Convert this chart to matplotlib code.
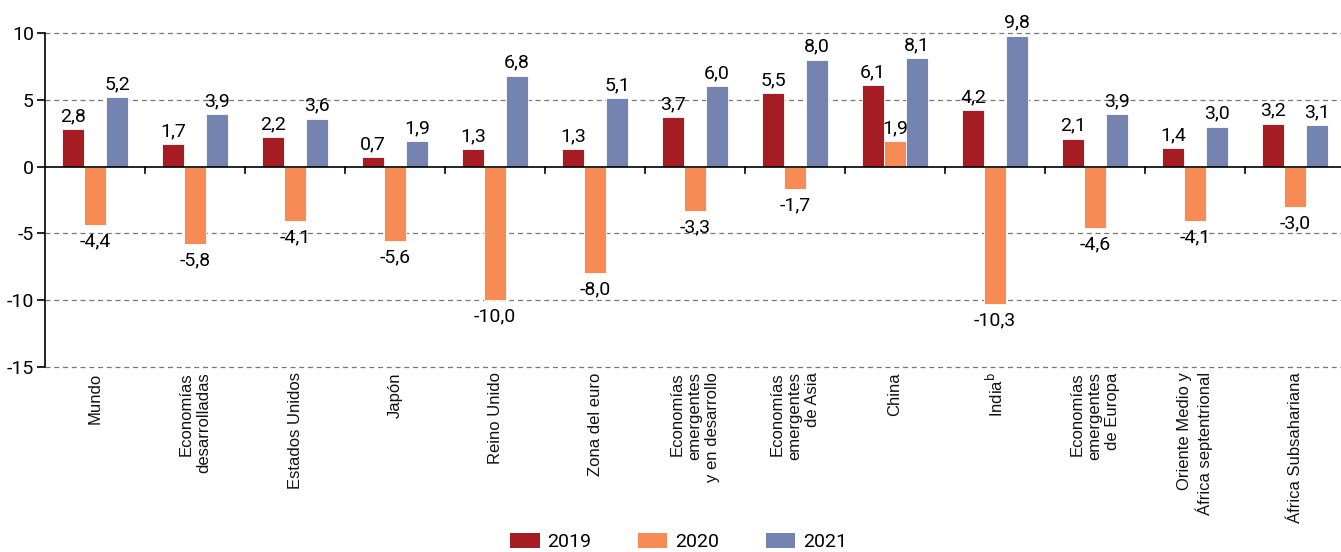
import matplotlib
matplotlib.use("Agg")
import matplotlib.pyplot as plt
import numpy as np
from matplotlib.patches import Patch

categories = [
    "Mundo", "Economías\ndesarrolladas", "Estados Unidos", "Japón",
    "Reino Unido", "Zona del euro", "Economías\nemergentes\ny en desarrollo",
    "Economías\nemergentes\nde Asia", "China", "India$^{\\mathrm{b}}$",
    "Economías\nemergentes\nde Europa", "Oriente Medio y\nÁfrica septentrional",
    "África Subsahariana",
]
years = ["2019", "2020", "2021"]
v2019 = [2.8, 1.7, 2.2, 0.7, 1.3, 1.3, 3.7, 5.5, 6.1, 4.2, 2.1, 1.4, 3.2]
v2020 = [-4.4, -5.8, -4.1, -5.6, -10.0, -8.0, -3.3, -1.7, 1.9, -10.3, -4.6, -4.1, -3.0]
v2021 = [5.2, 3.9, 3.6, 1.9, 6.8, 5.1, 6.0, 8.0, 8.1, 9.8, 3.9, 3.0, 3.1]
colors = ["#a51d23", "#f68b55", "#7483b0"]

num_font = ["Roboto", "DejaVu Sans"]
lab_font = ["Liberation Sans", "DejaVu Sans"]

fig = plt.figure(figsize=(13.41, 5.52), dpi=100)
ax = fig.add_axes([45 / 1341, 1 - 367 / 552, 1 - 45 / 1341, (367 - 33) / 552])

x = np.arange(len(categories))
w = 0.22
for i, (vals, col) in enumerate(zip([v2019, v2020, v2021], colors)):
    pos = x + (i - 1) * w
    ax.bar(pos, vals, width=w, color=col, edgecolor="white", linewidth=0.6, zorder=3)
    for px, v in zip(pos, vals):
        lbl = f"{v:.1f}".replace(".", ",")
        if v >= 0:
            ax.text(px, v + 0.3, lbl, ha="center", va="bottom",
                    fontsize=14, family=num_font, zorder=4)
        else:
            ax.text(px, v - 0.55, lbl, ha="center", va="top",
                    fontsize=14, family=num_font, zorder=4)

ax.set_xlim(-0.5, 12.46)
ax.set_ylim(-15, 10)
ax.set_yticks([10, 5, 0, -5, -10, -15])
ax.set_yticklabels(["10", "5", "0", "-5", "-10", "-15"], family=num_font, fontsize=14)
for yv in [10, 5, -5, -10, -15]:
    ax.axhline(yv, color="#777777", linestyle=(0, (4, 3)), linewidth=0.9, zorder=1,
               clip_on=False)
ax.axhline(0, color="black", linewidth=1.2, zorder=5)

for s in ["top", "right", "bottom"]:
    ax.spines[s].set_visible(False)
ax.spines["left"].set_linewidth(1.2)
ax.tick_params(axis="y", length=6, width=1.2, pad=2)

# group separator ticks hanging from the zero line
ax.set_xticks([])
for b in np.arange(0.5, 12.5, 1.0):
    ax.plot([b, b], [0, -0.45], color="black", linewidth=1.2, zorder=5, clip_on=False)

for xi, c in zip(x, categories):
    ax.text(xi, -15.4, c, rotation=90, ha="center", va="top", multialignment="right",
            fontsize=12, family=lab_font, color="#111111")

handles = [Patch(facecolor=c, edgecolor="none") for c in colors]
fig.legend(handles, years, loc="lower center", bbox_to_anchor=(0.506, -0.03), ncol=3,
           frameon=False, prop={"family": num_font, "size": 14},
           handlelength=1.5, handleheight=0.85, columnspacing=2.4, handletextpad=0.4)

fig.savefig("out.png", dpi=100)
